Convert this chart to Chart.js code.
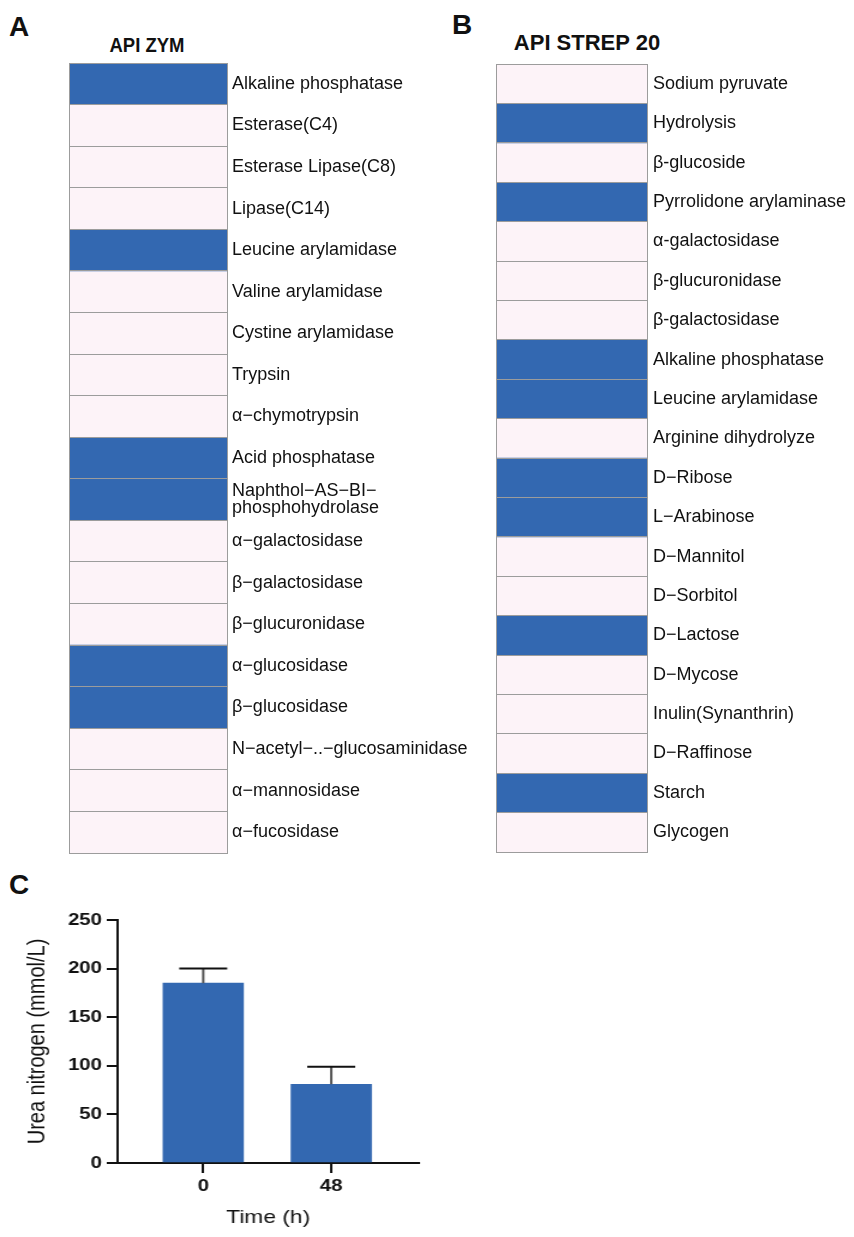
<!DOCTYPE html>
<html>
<head>
<meta charset="utf-8">
<script src="https://cdn.jsdelivr.net/npm/chart.js@4.4.1/dist/chart.umd.min.js"></script>
<style>
    html, body { margin: 0; padding: 0; background: #fff; }
    body { width: 854px; height: 1237px; position: relative; overflow: hidden;
           font-family: "Liberation Sans", Arial, sans-serif; color: #111; }
    .panel-letter { position: absolute; font-size: 28px; font-weight: bold; line-height: 1; }
    .panel-title { position: absolute; font-weight: bold; line-height: 1; white-space: nowrap;
                   transform: translate(-50%, -50%); }
    .box { position: absolute; }
</style>
</head>
<body>

<div class="panel-letter" style="left:9px; top:13px;">A</div>
<div class="panel-letter" style="left:452px; top:11px;">B</div>
<div class="panel-letter" style="left:9px; top:871px;">C</div>

<div class="panel-title" style="left:147px; top:44px; font-size:21px; transform: translate(-50%, -50%) scaleX(0.88);">API ZYM</div>
<div class="panel-title" style="left:587px; top:43px; font-size:22px;">API STREP 20</div>

<div class="box" style="left:0px; top:50px; width:540px; height:820px;"><canvas id="zymChart"></canvas></div>
<div class="box" style="left:440px; top:50px; width:414px; height:820px;"><canvas id="strepChart"></canvas></div>
<div class="box" style="left:0px; top:870px; width:360px; height:367px; transform: scaleX(1.2); transform-origin: 0 0;"><canvas id="ureaChart"></canvas></div>

<script>
// ---- データ ----
// API ZYM の項目と判定 (1 = 陽性, 0 = 陰性)
const zymLabels = [
    'Alkaline phosphatase', 'Esterase(C4)', 'Esterase Lipase(C8)', 'Lipase(C14)',
    'Leucine arylamidase', 'Valine arylamidase', 'Cystine arylamidase', 'Trypsin',
    'α−chymotrypsin', 'Acid phosphatase', ['Naphthol−AS−BI−', 'phosphohydrolase'],
    'α−galactosidase', 'β−galactosidase', 'β−glucuronidase', 'α−glucosidase',
    'β−glucosidase', 'N−acetyl−..−glucosaminidase', 'α−mannosidase', 'α−fucosidase'
];
const zymResult = [1, 0, 0, 0, 1, 0, 0, 0, 0, 1, 1, 0, 0, 0, 1, 1, 0, 0, 0];

// API STREP 20 の項目と判定
const strepLabels = [
    'Sodium pyruvate', 'Hydrolysis', 'β-glucoside', 'Pyrrolidone arylaminase',
    'α-galactosidase', 'β-glucuronidase', 'β-galactosidase', 'Alkaline phosphatase',
    'Leucine arylamidase', 'Arginine dihydrolyze', 'D−Ribose', 'L−Arabinose',
    'D−Mannitol', 'D−Sorbitol', 'D−Lactose', 'D−Mycose', 'Inulin(Synanthrin)',
    'D−Raffinose', 'Starch', 'Glycogen'
];
const strepResult = [0, 1, 0, 1, 0, 0, 0, 1, 1, 0, 1, 1, 0, 0, 1, 0, 0, 0, 1, 0];

// 尿素窒素 (mmol/L)
const timeLabels = ['0', '48'];
const ureaMean = [185, 81];
const ureaSd = [15, 18];
const ureaTicks = [0, 50, 100, 150, 200, 250];

// ---- スタイル ----
const BLUE = '#3368b1';
const PINK = '#fdf3f8';
const GRID = '#9c9c9c';
const INK = '#111111';
const FONT = '"Liberation Sans", Arial, sans-serif';

// 判定表 (横棒を積み上げてセルにする)
function drawHeatmap(id, labels, results, pad, axisWidth, labelGap) {
    new Chart(document.getElementById(id), {
        type: 'bar',
        data: {
            labels: labels,
            datasets: [
                { label: 'positive', data: results, backgroundColor: BLUE, stack: 's' },
                { label: 'negative', data: results.map(v => 1 - v), backgroundColor: PINK, stack: 's' },
            ],
        },
        options: {
            indexAxis: 'y',
            animation: false,
            responsive: true,
            maintainAspectRatio: false,
            datasets: { bar: { barPercentage: 1, categoryPercentage: 1 } },
            layout: { padding: pad },
            plugins: { legend: { display: false }, tooltip: { enabled: false } },
            scales: {
                // セルの枠線はデータの上に描く (grid.z = 1)
                x: {
                    stacked: true, min: 0, max: 1,
                    ticks: { display: false, stepSize: 1 },
                    grid: { color: GRID, drawTicks: false, z: 1 },
                    border: { display: false },
                    afterFit: s => { s.height = 0; },
                },
                y: {
                    stacked: true, position: 'right',
                    grid: { offset: true, color: GRID, drawTicks: false, z: 1 },
                    border: { color: GRID, z: 1 },
                    ticks: { padding: labelGap, color: INK, autoSkip: false,
                             font: { family: FONT, size: 18, lineHeight: 0.9 } },
                    afterFit: s => { s.width = axisWidth; },
                },
            },
        },
    });
}

drawHeatmap('zymChart', zymLabels, zymResult, { left: 69, top: 12, right: 0, bottom: 17 }, 313, 5);
drawHeatmap('strepChart', strepLabels, strepResult, { left: 56, top: 11, right: 0, bottom: 18 }, 207, 6);

// エラーバー (上側のみ)
const errorBars = {
    id: 'errorBars',
    afterDatasetsDraw(chart) {
        const { ctx } = chart;
        const y = chart.scales.y;
        const meta = chart.getDatasetMeta(0);
        ctx.save();
        ctx.lineWidth = 2;
        meta.data.forEach((bar, i) => {
            const top = y.getPixelForValue(ureaMean[i]);
            const end = y.getPixelForValue(ureaMean[i] + ureaSd[i]);
            ctx.strokeStyle = '#555';
            ctx.beginPath();
            ctx.moveTo(bar.x, top);
            ctx.lineTo(bar.x, end);
            ctx.stroke();
            ctx.strokeStyle = INK;
            ctx.beginPath();
            ctx.moveTo(bar.x - 20, end);
            ctx.lineTo(bar.x + 20, end);
            ctx.stroke();
        });
        ctx.restore();
    },
};

new Chart(document.getElementById('ureaChart'), {
    type: 'bar',
    data: {
        datasets: [{
            data: ureaMean.map((v, i) => ({ x: i, y: v })),
            backgroundColor: BLUE,
            barThickness: 67,
        }],
    },
    options: {
        animation: false,
        responsive: true,
        maintainAspectRatio: false,
        layout: { padding: { left: 0, top: 50, right: 11, bottom: 0 } },
        plugins: { legend: { display: false }, tooltip: { enabled: false } },
        scales: {
            x: {
                type: 'linear', min: -0.669, max: 1.684, offset: false,
                afterBuildTicks: s => { s.ticks = timeLabels.map((_, i) => ({ value: i })); },
                ticks: { callback: (v, i) => timeLabels[i], color: INK, padding: 3,
                         font: { family: FONT, size: 17, weight: 'bold' } },
                grid: { offset: false, drawOnChartArea: false, color: INK, lineWidth: 2, tickLength: 10 },
                border: { color: INK, width: 2 },
                title: { display: true, text: 'Time (h)', color: INK,
                         font: { family: FONT, size: 19 }, padding: { top: 4, bottom: 8 } },
                afterFit: s => { s.height = 74; },
            },
            y: {
                min: 0, max: 250,
                afterBuildTicks: s => { s.ticks = ureaTicks.map(v => ({ value: v })); },
                ticks: { color: INK, padding: 4, font: { family: FONT, size: 17, weight: 'bold' } },
                grid: { drawOnChartArea: false, color: INK, lineWidth: 2, tickLength: 9 },
                border: { color: INK, width: 2 },
                title: { display: true, text: 'Urea nitrogen (mmol/L)', color: INK,
                         font: { family: FONT, size: 20 }, padding: { top: 19, bottom: 0 } },
                afterFit: s => { s.width = 98; },
            },
        },
    },
    plugins: [errorBars],
});
</script>
</body>
</html>
